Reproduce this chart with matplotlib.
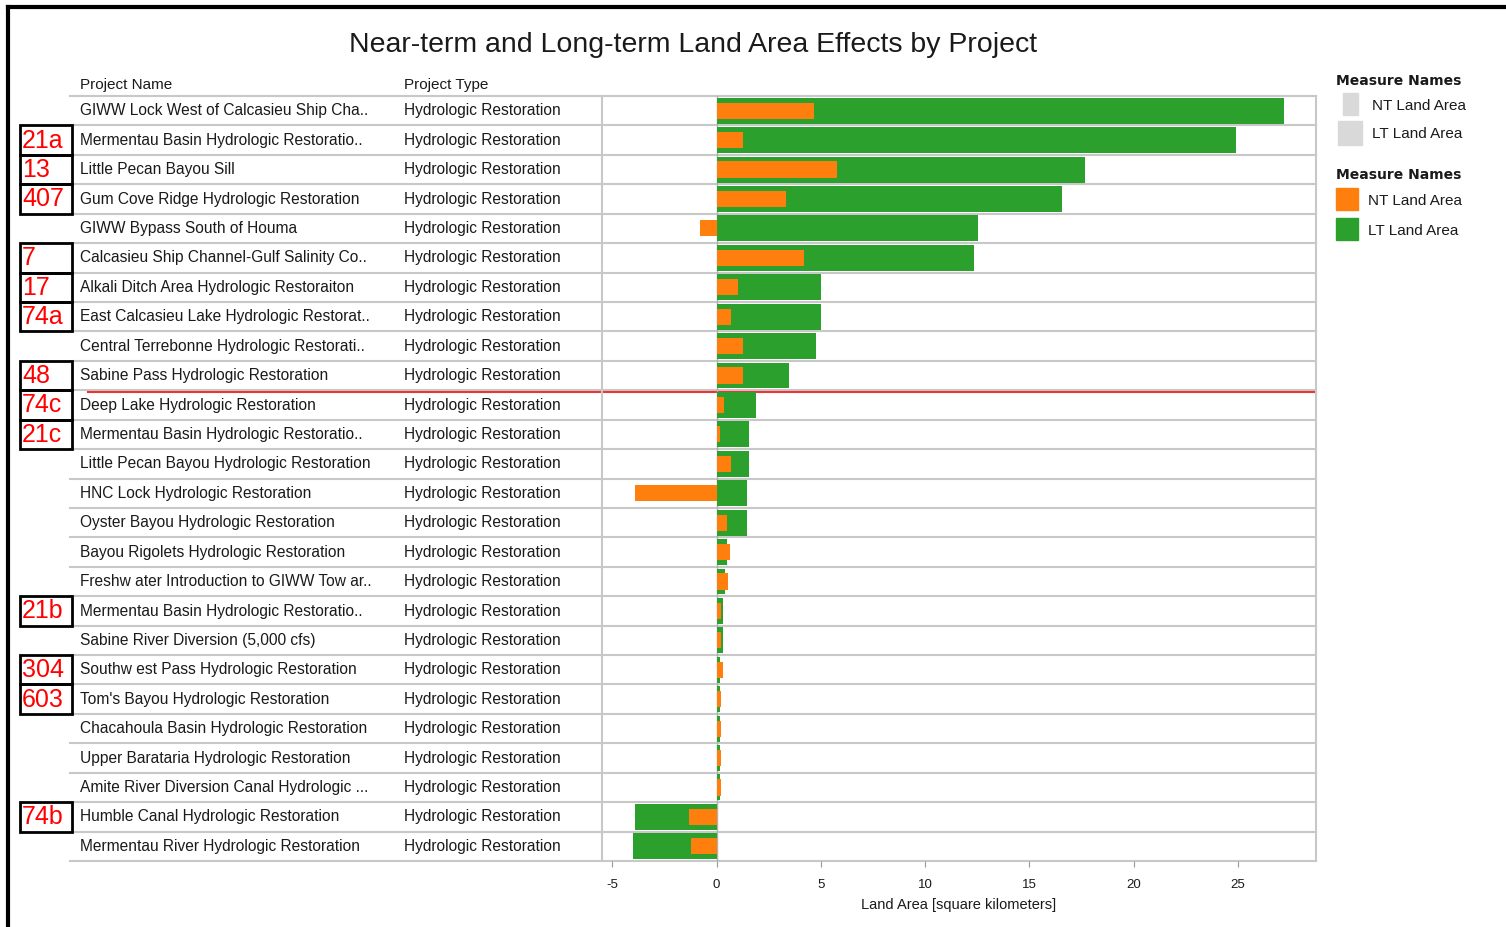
import matplotlib
matplotlib.use("Agg")
import matplotlib.pyplot as plt
from matplotlib.patches import Rectangle
from matplotlib.lines import Line2D

plt.rcParams['font.family'] = ['Liberation Sans', 'DejaVu Sans']
plt.rcParams['axes.unicode_minus'] = False

project_names = [
    "GIWW Lock West of Calcasieu Ship Cha..",
    "Mermentau Basin Hydrologic Restoratio..",
    "Little Pecan Bayou Sill",
    "Gum Cove Ridge Hydrologic Restoration",
    "GIWW Bypass South of Houma",
    "Calcasieu Ship Channel-Gulf Salinity Co..",
    "Alkali Ditch Area Hydrologic Restoraiton",
    "East Calcasieu Lake Hydrologic Restorat..",
    "Central Terrebonne Hydrologic Restorati..",
    "Sabine Pass Hydrologic Restoration",
    "Deep Lake Hydrologic Restoration",
    "Mermentau Basin Hydrologic Restoratio..",
    "Little Pecan Bayou Hydrologic Restoration",
    "HNC Lock Hydrologic Restoration",
    "Oyster Bayou Hydrologic Restoration",
    "Bayou Rigolets Hydrologic Restoration",
    "Freshw ater Introduction to GIWW Tow ar..",
    "Mermentau Basin Hydrologic Restoratio..",
    "Sabine River Diversion (5,000 cfs)",
    "Southw est Pass Hydrologic Restoration",
    "Tom's Bayou Hydrologic Restoration",
    "Chacahoula Basin Hydrologic Restoration",
    "Upper Barataria Hydrologic Restoration",
    "Amite River Diversion Canal Hydrologic ...",
    "Humble Canal Hydrologic Restoration",
    "Mermentau River Hydrologic Restoration",
]
project_types = ["Hydrologic Restoration"] * len(project_names)
nt_land_area = [4.65, 1.25, 5.75, 3.35, -0.8, 4.2, 1.0, 0.7, 1.25, 1.25,
                0.35, 0.15, 0.7, -3.9, 0.5, 0.65, 0.55, 0.2, 0.2, 0.3,
                0.2, 0.2, 0.2, 0.2, -1.35, -1.25]
lt_land_area = [27.2, 24.9, 17.65, 16.55, 12.55, 12.35, 5.0, 5.0, 4.75, 3.45,
                1.9, 1.55, 1.55, 1.45, 1.45, 0.5, 0.4, 0.3, 0.3, 0.18,
                0.15, 0.15, 0.15, 0.15, -3.9, -4.0]
row_tags = ["", "21a", "13", "407", "", "7", "17", "74a", "", "48",
            "74c", "21c", "", "", "", "", "", "21b", "", "304",
            "603", "", "", "", "74b", ""]
x_ticks = [-5, 0, 5, 10, 15, 20, 25]

W, H = 1506, 928
fig = plt.figure(figsize=(W / 100, H / 100), dpi=100)

top_px, bot_px = 97, 862
left_px, right_px = 602, 1316
n = len(project_names)
grid_col = "#c8c8c8"
txt_col = "#1a1a1a"

# table axes spanning full width (x in pixels), sharing rows with the chart
tab = fig.add_axes([0, 1 - bot_px / H, 1, (bot_px - top_px) / H])
tab.set_xlim(0, W)
tab.set_ylim(n - 0.5, -0.5)
tab.axis("off")

ax = fig.add_axes([left_px / W, 1 - bot_px / H, (right_px - left_px) / W, (bot_px - top_px) / H])
ax.set_ylim(n - 0.5, -0.5)
ax.set_xlim(-5.5, 28.75)
ax.patch.set_alpha(0)

rows = list(range(n))
ax.barh(rows, lt_land_area, height=0.88, color="#2ca02c", zorder=3)
ax.barh(rows, nt_land_area, height=0.55, color="#ff7f0e", zorder=4)
ax.axvline(0, color="#b0b0b0", lw=1, zorder=2)

for s in ["top", "bottom"]:
    ax.spines[s].set_visible(False)
for s in ["left", "right"]:
    ax.spines[s].set_color(grid_col)
    ax.spines[s].set_linewidth(1.5)
ax.set_yticks([])
ax.set_xticks(x_ticks)
ax.tick_params(axis="x", colors="#999999", length=4, pad=8, labelsize=9.5, labelcolor=txt_col)
ax.set_xlabel("Land Area [square kilometers]", fontsize=10.5, color=txt_col, labelpad=5)

# row separators
for i in range(n + 1):
    tab.plot([70, right_px], [i - 0.5, i - 0.5], color=grid_col, lw=1.5, zorder=1, clip_on=False)

# table text
tab.text(80, -0.9, "Project Name", fontsize=11, va="center", ha="left", color=txt_col)
tab.text(404, -0.9, "Project Type", fontsize=11, va="center", ha="left", color=txt_col)
for i, (nm, tp) in enumerate(zip(project_names, project_types)):
    tab.text(80, i - 0.03, nm, fontsize=11.2, va="center", ha="left", color=txt_col)
    tab.text(404, i - 0.03, tp, fontsize=11.2, va="center", ha="left", color=txt_col)

# tag boxes
for i, tag in enumerate(row_tags):
    if tag:
        tab.add_patch(Rectangle((20, i - 0.5), 52, 1, fill=False, ec="black", lw=2, clip_on=False, zorder=5))
        tab.text(22, i - 0.02, tag, fontsize=18, color="red", va="center", ha="left", zorder=6)

# red marker line under Sabine Pass row
tab.plot([88, right_px], [9.55, 9.55], color="#ee3333", lw=1.5, zorder=7, clip_on=False)

# title
fig.text(693 / W, 1 - 45 / H, "Near-term and Long-term Land Area Effects by Project",
         fontsize=20.5, ha="center", va="center", color=txt_col)

# legend
def fy(p):
    return 1 - p / H

leg_fs = 11
fig.text(1336 / W, fy(81), "Measure Names", fontsize=10, fontweight="bold", family="DejaVu Sans",
         va="center", color=txt_col)
fig.patches.append(Rectangle((1343 / W, fy(116)), 15 / W, 22 / H, transform=fig.transFigure, color="#d9d9d9"))
fig.text(1372 / W, fy(106), "NT Land Area", fontsize=leg_fs, va="center", color=txt_col)
fig.patches.append(Rectangle((1338 / W, fy(146)), 24 / W, 24 / H, transform=fig.transFigure, color="#d9d9d9"))
fig.text(1372 / W, fy(134), "LT Land Area", fontsize=leg_fs, va="center", color=txt_col)
fig.text(1336 / W, fy(175), "Measure Names", fontsize=10, fontweight="bold", family="DejaVu Sans",
         va="center", color=txt_col)
fig.patches.append(Rectangle((1336 / W, fy(211)), 22 / W, 22 / H, transform=fig.transFigure, color="#ff7f0e"))
fig.text(1368 / W, fy(201), "NT Land Area", fontsize=leg_fs, va="center", color=txt_col)
fig.patches.append(Rectangle((1336 / W, fy(241)), 22 / W, 22 / H, transform=fig.transFigure, color="#2ca02c"))
fig.text(1368 / W, fy(231), "LT Land Area", fontsize=leg_fs, va="center", color=txt_col)

# outer frame lines
fig.add_artist(Line2D([8 / W, 1], [fy(8), fy(8)], color="black", lw=3, transform=fig.transFigure))
fig.add_artist(Line2D([8 / W, 8 / W], [0, fy(8)], color="black", lw=3, transform=fig.transFigure))

fig.savefig("out.png", dpi=100)
